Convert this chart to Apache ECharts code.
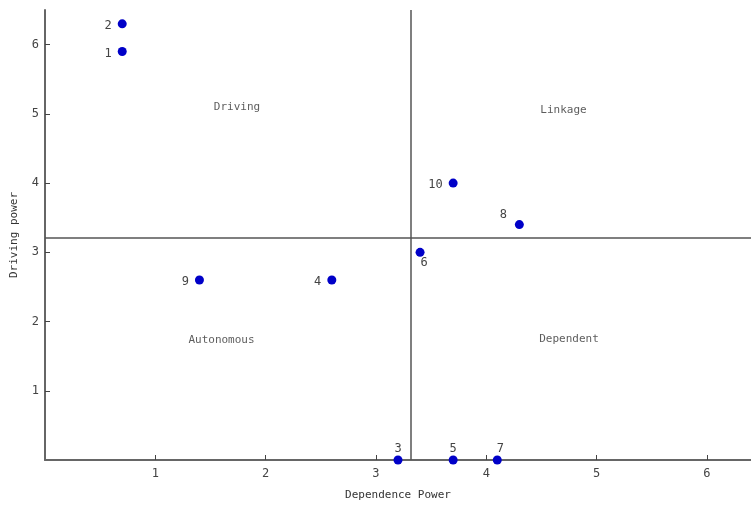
<!DOCTYPE html>
<html><head><meta charset="utf-8">
<script src="https://cdn.jsdelivr.net/npm/echarts@6/dist/echarts.min.js"></script>
<style>html,body{margin:0;padding:0;background:#fff}#c{width:751px;height:505px}</style>
</head><body><div id="c"></div>
<script>
const pointIds = ['1','2','3','4','5','6','7','8','9','10'];
const dependence = [0.7, 0.7, 3.2, 2.6, 3.7, 3.4, 4.1, 4.3, 1.4, 3.7];
const driving = [5.9, 6.3, 0, 2.6, 0, 3.0, 0, 3.4, 2.6, 4.0];
const labelSide = ['left','left','top','left','top','bottom','top','top','left','left'];
const xTicks = [1, 2, 3, 4, 5, 6];
const yTicks = [1, 2, 3, 4, 5, 6];
const quadrantNames = ['Driving', 'Linkage', 'Autonomous', 'Dependent'];
const quadrantX = [1.74, 4.7, 1.6, 4.75];
const quadrantY = [5.1, 5.05, 1.73, 1.74];
const splitX = 3.32;
const splitY = 3.21;

const font = 'DejaVu Sans Mono';
const labelOffsets = {left:[-2,2], top:[0,2], bottom:[4,-4]};
const pts = pointIds.map((id, i) => ({
  value: [dependence[i], driving[i]],
  label: {show: true, formatter: id, position: labelSide[i],
    distance: labelSide[i]==='top' ? 3 : 4,
    offset: id==='7' ? [3,2] : (id==='8' ? [-16,4] : labelOffsets[labelSide[i]])}
}));
const chart = echarts.init(document.getElementById('c'), null, {renderer:'canvas'});
chart.setOption({
  animation: false,
  grid: {left: 45, right: 0, top: 10, bottom: 45, outerBoundsMode: 'none', containLabel: false},
  xAxis: {
    type: 'value', min: 0, max: 6.4,
    name: 'Dependence Power', nameLocation: 'middle', nameGap: 30,
    nameTextStyle: {fontFamily: font, fontSize: 11, color: '#333'},
    axisLine: {onZero: false, lineStyle: {color: '#666', width: 2}},
    axisTick: {show: true, inside: true, length: 5, customValues: xTicks, lineStyle: {color: '#444'}},
    axisLabel: {customValues: xTicks, fontFamily: font, fontSize: 12, color: '#444', margin: 8},
    splitLine: {show: false}
  },
  yAxis: {
    type: 'value', min: 0, max: 6.5,
    name: 'Driving power', nameLocation: 'middle', nameGap: 25,
    nameTextStyle: {fontFamily: font, fontSize: 11, color: '#333'},
    axisLine: {onZero: false, lineStyle: {color: '#666', width: 2}},
    axisTick: {show: true, inside: true, length: 5, customValues: yTicks, lineStyle: {color: '#444'}},
    axisLabel: {customValues: yTicks, fontFamily: font, fontSize: 12, color: '#444', margin: 6},
    splitLine: {show: false}
  },
  series: [
    {
      type: 'scatter', symbolSize: 9,
      itemStyle: {color: '#0000c8', opacity: 1},
      label: {fontFamily: font, fontSize: 12, color: '#444'},
      data: pts,
      clip: false,
      markLine: {
        silent: true, symbol: 'none',
        label: {show: false},
        lineStyle: {color: '#555', width: 1.5, type: 'solid', opacity: 1},
        data: [
          [{coord: [splitX, 0]}, {coord: [splitX, 6.5]}],
          [{coord: [0, splitY]}, {coord: [6.4, splitY]}]
        ]
      }
    },
    {
      type: 'scatter', symbolSize: 0, silent: true,
      data: quadrantNames.map((n, i) => ({value: [quadrantX[i], quadrantY[i]], name: n})),
      label: {show: true, position: 'inside', formatter: '{b}', fontFamily: font, fontSize: 11, color: '#333'}
    }
  ]
});
</script></body></html>
